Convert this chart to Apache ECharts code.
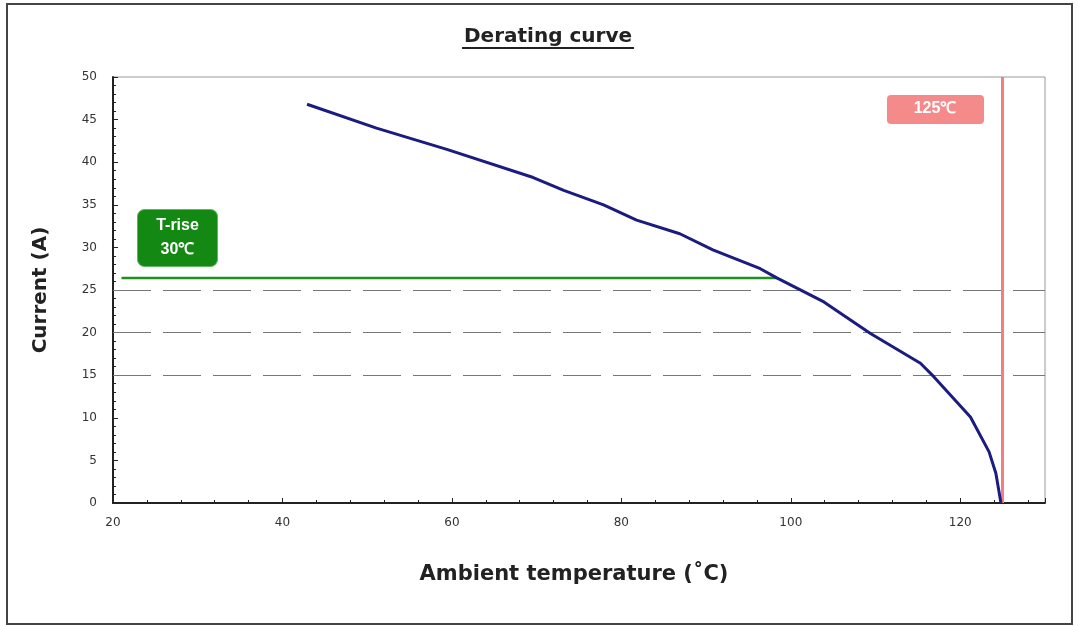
<!DOCTYPE html>
<html>
<head>
<meta charset="utf-8">
<script src="https://cdn.jsdelivr.net/npm/echarts@6/dist/echarts.min.js"></script>
<style>html,body{margin:0;padding:0;background:#fff;}#c{width:1078px;height:626px;}</style>
</head>
<body>
<div id="c"></div>
<script>
const curveTemp =    [42.9, 51.1, 59.4, 69.6, 73.2, 77.9, 81.8, 86.9, 90.8, 96.4, 98.4, 103.9, 109.4, 115.3, 116.9, 121.2, 123.4, 124.2, 124.8];
const curveCurrent = [46.8, 44.0, 41.5, 38.2, 36.7, 35.0, 33.2, 31.6, 29.7, 27.5, 26.4, 23.6, 19.9, 16.4, 14.8, 10.1, 6.0, 3.5, 0];
const triseTemp = [21, 98.3];
const triseCurrent = 26.4;
const maxTemp = 125;
const refLines = [15, 20, 25];
const titleText = 'Derating curve';
const xName = 'Ambient temperature (˚C)';
const yName = 'Current (A)';

const font = 'DejaVu Sans';
const chart = echarts.init(document.getElementById('c'));
const curve = curveTemp.map((t, i) => [t, curveCurrent[i]]);
chart.setOption({
  animation: false,
  backgroundColor: '#fff',
  textStyle: { fontFamily: font },
  title: {
    text: titleText, left: 459, top: 22,
    textStyle: { fontFamily: font, fontSize: 20, fontWeight: 'bold', color: '#222' }
  },
  grid: { left: 113, right: 33, top: 77, bottom: 123, show: true, borderColor: '#999', borderWidth: 1 },
  xAxis: {
    type: 'value', min: 20, max: 130, interval: 20,
    name: xName, nameLocation: 'middle', nameGap: 61,
    nameTextStyle: { fontFamily: font, fontSize: 21, fontWeight: 'bold', color: '#222', padding: [0, 10, 0, 0] },
    axisLine: { lineStyle: { color: '#222', width: 2 } },
    axisTick: { inside: true, length: 5, lineStyle: { color: '#222' } },
    minorTick: { show: true, splitNumber: 5, length: 3, lineStyle: { color: '#222' } },
    axisLabel: { color: '#333', fontSize: 12, margin: 14, fontFamily: font, showMaxLabel: false },
    splitLine: { show: false }
  },
  yAxis: {
    type: 'value', min: 0, max: 50, interval: 5,
    name: yName, nameLocation: 'middle', nameGap: 62, nameRotate: 90,
    nameTextStyle: { fontFamily: font, fontSize: 20, fontWeight: 'bold', color: '#222' },
    axisLine: { show: true, lineStyle: { color: '#222', width: 2 } },
    axisTick: { inside: true, length: 5, lineStyle: { color: '#222' } },
    minorTick: { show: true, splitNumber: 5, length: 3, lineStyle: { color: '#222' } },
    axisLabel: { color: '#333', fontSize: 12, margin: 16, fontFamily: font },
    splitLine: { show: false }
  },
  series: [
    {
      type: 'line', data: curve, showSymbol: false, symbol: 'none',
      lineStyle: { color: '#1c1c80', width: 3 }, z: 5,
      markLine: {
        silent: true, symbol: 'none', label: { show: false },
        lineStyle: { color: '#777', width: 1, type: [38, 12] },
        data: refLines.map(v => ({ yAxis: v }))
      }
    },
    {
      type: 'line', data: triseTemp.map(t => [t, triseCurrent]), showSymbol: false, symbol: 'none',
      lineStyle: { color: '#1f8f1f', width: 2.5 }, z: 4
    },
    {
      type: 'line', data: [],
      markLine: {
        silent: true, symbol: 'none',
        lineStyle: { color: '#f47f7f', width: 3, type: 'solid' },
        label: { show: false },
        data: [{ xAxis: maxTemp }]
      }
    }
  ],
  graphic: [
    { type: 'rect', shape: { x: 7, y: 4, width: 1065, height: 620 }, style: { fill: null, stroke: '#444', lineWidth: 2 }, z: 100 },
    { type: 'line', shape: { x1: 462, y1: 48, x2: 634, y2: 48 }, style: { stroke: '#222', lineWidth: 2 } },
    {
      type: 'group', left: 137, top: 209, children: [
        { type: 'rect', shape: { x: 0, y: 0, width: 80, height: 57, r: 7 }, style: { fill: '#138913', stroke: '#5cb85c', lineWidth: 1 } },
        { type: 'text', style: { x: 40, y: 8, text: 'T-rise', textAlign: 'center', fill: '#fff', font: 'bold 16px "Liberation Sans"' } },
        { type: 'text', style: { x: 40, y: 32, text: '30℃', textAlign: 'center', fill: '#fff', font: 'bold 16px "Liberation Sans"' } }
      ]
    },
    {
      type: 'group', left: 887, top: 95, children: [
        { type: 'rect', shape: { x: 0, y: 0, width: 97, height: 29, r: 4 }, style: { fill: '#f58a8a' } },
        { type: 'text', style: { x: 48, y: 6, text: '125℃', textAlign: 'center', fill: '#fff', font: 'bold 16px "Liberation Sans"' } }
      ]
    }
  ]
});
</script>
</body>
</html>
